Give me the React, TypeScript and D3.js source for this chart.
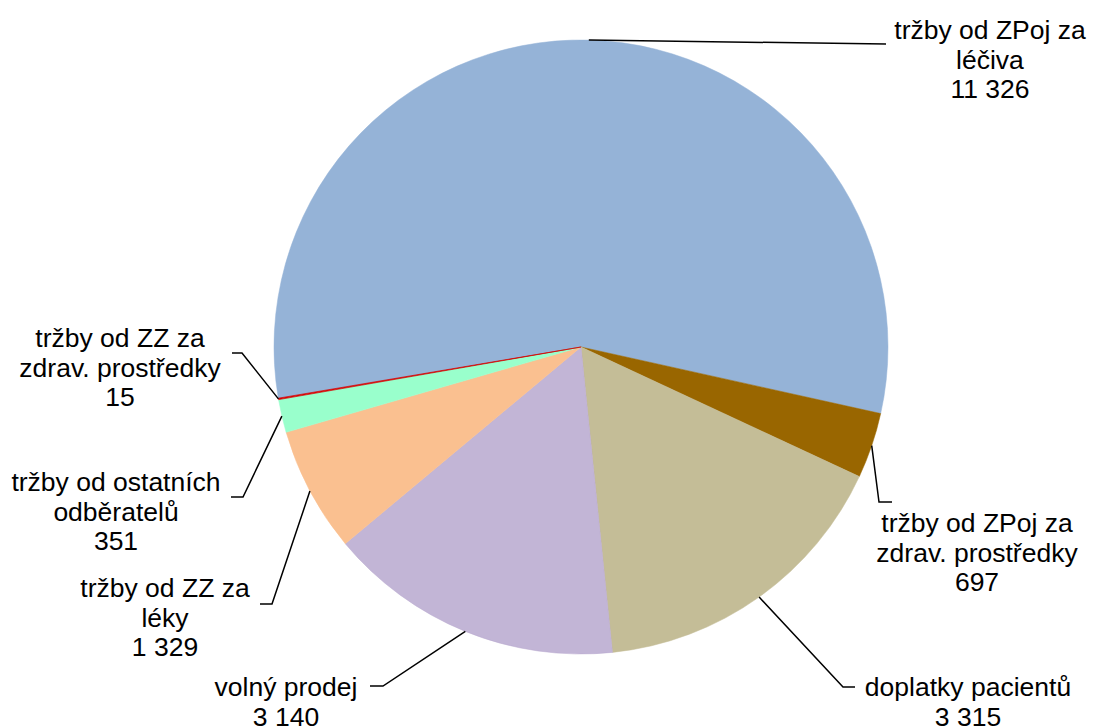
import { useEffect, useRef } from "react";
import * as d3 from "d3";

// slice order, clockwise from the first slice angle
const categories = [
  ["tržby od ZPoj za", "léčiva"],
  ["tržby od ZPoj za", "zdrav. prostředky"],
  ["doplatky pacientů"],
  ["volný prodej"],
  ["tržby od ZZ za", "léky"],
  ["tržby od ostatních", "odběratelů"],
  ["tržby od ZZ za", "zdrav. prostředky"],
];
const values = [11326, 697, 3315, 3140, 1329, 351, 15];
const colors = ["#95B3D7", "#996600", "#C4BD97", "url(#lav)", "#FAC090", "#99FFCC", "#E00000"];

// label placement: text center x, first line center y, elbow and end of the leader
const labelLayout = [
  { cx: 990, cy: 30, elbow: [886, 44], end: [886, 44] },
  { cx: 977, cy: 523, elbow: [879, 502], end: [892, 502] },
  { cx: 968, cy: 687, elbow: [843, 687], end: [855, 687] },
  { cx: 286, cy: 687, elbow: [383, 686], end: [370, 686] },
  { cx: 165, cy: 588, elbow: [272, 604], end: [260, 604] },
  { cx: 116, cy: 482, elbow: [243, 497], end: [231, 497] },
  { cx: 120, cy: 338, elbow: [242, 353], end: [232, 353] },
];

const czFormat = d3.formatLocale({
  decimal: ",",
  thousands: " ",
  grouping: [3],
  currency: ["", " Kč"],
}).format(",d");

const PieChart = () => {
  const svgRef = useRef<SVGSVGElement | null>(null);

  useEffect(() => {
    document.body.style.margin = "0";
    const svg = d3.select(svgRef.current);
    svg.selectAll("*").remove();

    const width = 1098;
    const height = 728;
    const cx = 581;
    const cy = 347;
    const radius = 307;
    const startDeg = 260.4;

    svg.attr("width", width).attr("height", height).style("display", "block");

    const defs = svg.append("defs");
    const lav = defs
      .append("linearGradient")
      .attr("id", "lav")
      .attr("gradientUnits", "userSpaceOnUse")
      .attr("x1", 0).attr("y1", cy)
      .attr("x2", 0).attr("y2", cy + radius);
    lav.append("stop").attr("offset", "0%").attr("stop-color", "#C2B5D6");
    lav.append("stop").attr("offset", "100%").attr("stop-color", "#B09EC7");

    const start = (startDeg * Math.PI) / 180;
    const pie = d3
      .pie<number>()
      .sort(null)
      .value((d) => d)
      .startAngle(start)
      .endAngle(start + Math.PI * 2);
    const arcs = pie(values);

    const arc = d3.arc<d3.PieArcDatum<number>>().innerRadius(0).outerRadius(radius);

    const g = svg.append("g").attr("transform", `translate(${cx},${cy})`);
    g.selectAll("path")
      .data(arcs)
      .enter()
      .append("path")
      .attr("d", arc)
      .attr("fill", (_, i) => colors[i])
      .attr("stroke", (_, i) => (i === 6 ? "#D00000" : colors[i] === "url(#lav)" ? "#B9A9CE" : colors[i]))
      .attr("stroke-width", (_, i) => (i === 6 ? 0.7 : 0.5));

    // leader lines
    arcs.forEach((a, i) => {
      const mid = (a.startAngle + a.endAngle) / 2;
      const px = cx + radius * Math.sin(mid);
      const py = cy - radius * Math.cos(mid);
      const lay = labelLayout[i];
      svg
        .append("polyline")
        .attr("points", `${px},${py} ${lay.elbow[0]},${lay.elbow[1]} ${lay.end[0]},${lay.end[1]}`)
        .attr("fill", "none")
        .attr("stroke", "#000")
        .attr("stroke-width", 1.5);
    });

    // labels
    categories.forEach((lines, i) => {
      const lay = labelLayout[i];
      const all = [...lines, czFormat(values[i])];
      const t = svg
        .append("text")
        .attr("text-anchor", "middle")
        .style("font-family", "'Liberation Sans', Arial, sans-serif")
        .style("font-size", "26.5px")
        .attr("fill", "#000");
      all.forEach((s, k) => {
        t.append("tspan")
          .attr("x", lay.cx)
          .attr("y", lay.cy + k * 29.5)
          .attr("dy", "0.35em")
          .text(s);
      });
    });
  }, []);

  return <svg ref={svgRef} />;
};

export default function App() {
  return <PieChart />;
}
